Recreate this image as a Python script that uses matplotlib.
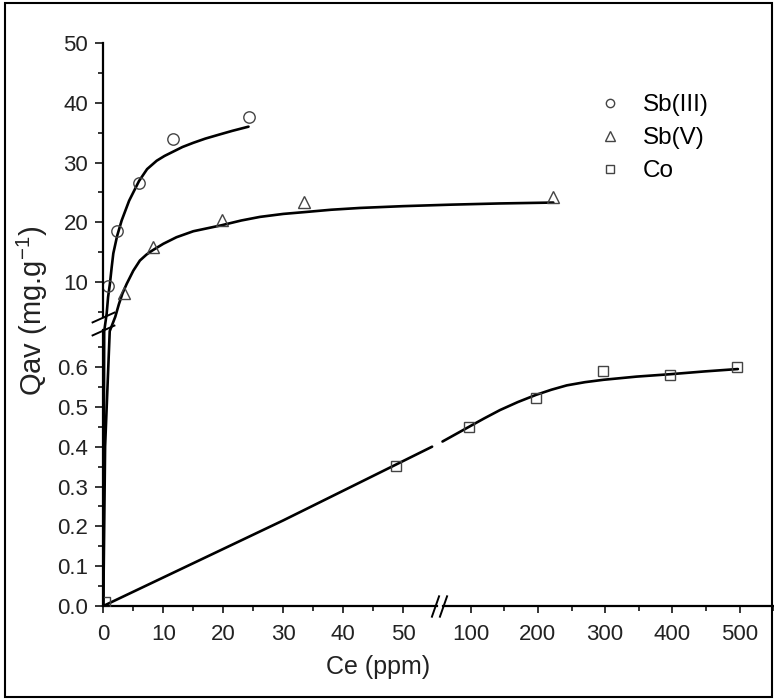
import numpy as np
import matplotlib
matplotlib.use("Agg")
import matplotlib.pyplot as plt
from matplotlib.lines import Line2D
from matplotlib.patches import Rectangle

plt.rcParams.update({"font.family": ["Liberation Sans", "DejaVu Sans"],
                     "mathtext.default": "regular"})

# ---------------- data ----------------
sb3_ce = [0.8, 2.3, 5.95, 11.6, 24.2]
sb3_q = [9.4, 18.5, 26.6, 34.0, 37.6]
sb5_ce = [3.5, 8.2, 19.7, 33.5, 74.9]
sb5_q = [8.2, 15.9, 20.3, 23.4, 24.3]
co_ce = [0.3, 48.7, 97, 197, 297, 396, 496]
co_q = [0.01, 0.351, 0.449, 0.523, 0.589, 0.579, 0.599]

# fitted curves
sb3_fit_ce = [0.0, 0.15, 0.56, 0.8, 1.1, 1.4, 1.67, 2.3, 3.06, 4.3, 5.95, 7.3, 8.9, 10.2,
              11.6, 13.2, 15.0, 17.0, 19.4, 21.5, 24.2]
sb3_fit_q = [0.0, 0.69, 4.7, 7.5, 9.7, 12.5, 14.8, 17.7, 20.3, 23.6, 26.9, 28.9, 30.3, 31.1,
             31.8, 32.6, 33.3, 34.0, 34.7, 35.3, 36.0]
sb5_fit_ce = [0.0, 0.3, 1.07, 2.0, 2.6, 3.2, 3.9, 5.0, 6.1, 7.2, 8.2, 10, 12.2, 15, 19.7, 23,
              26.1, 30, 33.5, 38, 42.8, 50, 58, 66, 75]
sb5_fit_q = [0.0, 0.40, 0.69, 4.2, 6.3, 8.1, 9.7, 11.9, 13.6, 14.6, 15.3, 16.4, 17.5, 18.5, 19.5,
             20.3, 20.9, 21.4, 21.7, 22.1, 22.4, 22.7, 22.95, 23.15, 23.3]
co_fit1_ce = [0.0, 30.0, 54.8]
co_fit1_q = [0.0, 0.215, 0.40]
co_fit2_ce = [58, 97.5, 120, 143.6, 170, 197, 220, 243, 270, 297.6, 347, 397, 448, 497.6]
co_fit2_q = [0.413, 0.450, 0.471, 0.492, 0.512, 0.530, 0.543, 0.554, 0.562, 0.568, 0.576,
             0.582, 0.589, 0.595]

y_major = [0, 0.1, 0.2, 0.3, 0.4, 0.5, 0.6, 10, 20, 30, 40, 50]
y_labels = ["0.0", "0.1", "0.2", "0.3", "0.4", "0.5", "0.6", "10", "20", "30", "40", "50"]
y_minor = [0.05, 0.15, 0.25, 0.35, 0.45, 0.55, 0.65, 5, 15, 25, 35, 45]
x_major = [0, 10, 20, 30, 40, 50, 100, 200, 300, 400, 500]
x_minor = [5, 15, 25, 35, 45, 150, 250, 350, 450, 550]

# broken-axis geometry (data value -> pixel distance from axis origin)
Y_KNOTS = [0, 0.693, 4.1, 50]
Y_PIX = [0, 276, 288.7, 563]
X_KNOTS = [0, 55, 58, 550]
X_PIX = [0, 330, 339.2, 669.8]
X_GAP = (55.6, 58.5)


def piecewise(src, dst):
    src = np.asarray(src, float)
    dst = np.asarray(dst, float)

    def f(v):
        v = np.asarray(v, float)
        out = np.interp(v, src, dst)
        out = np.where(v < src[0], dst[0] + (v - src[0]) * (dst[1] - dst[0]) / (src[1] - src[0]), out)
        out = np.where(v > src[-1], dst[-1] + (v - src[-1]) * (dst[-1] - dst[-2]) / (src[-1] - src[-2]), out)
        return out
    return f


fig = plt.figure(figsize=(7.74, 7.0), dpi=100)
ax = fig.add_axes([103.3 / 774, 94 / 700, 669.8 / 774, 563 / 700])
ax.set_yscale("function", functions=(piecewise(Y_KNOTS, Y_PIX), piecewise(Y_PIX, Y_KNOTS)))
ax.set_ylim(0, 50)
ax.set_xlim(0, 669.8 / 6)

axc = ax.twiny()
axc.set_xscale("function", functions=(piecewise(X_KNOTS, X_PIX), piecewise(X_PIX, X_KNOTS)))
axc.set_xlim(0, 550)

# broken spines: upper y part + left x part on ax, lower y part + right x part on axc
for a in (ax, axc):
    a.spines["top"].set_visible(False)
    a.spines["right"].set_visible(False)
    for s in ("left", "bottom"):
        a.spines[s].set_visible(True)
        a.spines[s].set_linewidth(1.6)
        a.spines[s].set_zorder(6)
ax.spines["left"].set_bounds(Y_KNOTS[2], Y_KNOTS[3])
ax.spines["bottom"].set_bounds(0, X_GAP[0])
axc.spines["left"].set_bounds(Y_KNOTS[0], Y_KNOTS[1])
axc.spines["bottom"].set_bounds(X_GAP[1], 550)

mk = dict(linestyle="none", mfc="none", mec="#444", mew=1.0, zorder=4)
fit = dict(color="k", lw=1.9, solid_capstyle="round", solid_joinstyle="round", zorder=3)

ax.plot(sb3_fit_ce, sb3_fit_q, **fit)
ax.plot(sb5_fit_ce, sb5_fit_q, **fit)
ax.plot(sb3_ce, sb3_q, marker="o", ms=8.2, **mk)
ax.plot(sb5_ce, sb5_q, marker="^", ms=9, **mk)

axc.plot(co_fit1_ce, co_fit1_q, **fit)
axc.plot(co_fit2_ce, co_fit2_q, **fit)
axc.plot(co_ce, co_q, marker="s", ms=7.3, **mk)

# break marks
brk = dict(linestyle="none", color="k", mec="k", mew=1.4, clip_on=False, zorder=7)
ax.plot([0, 0], [Y_KNOTS[1], Y_KNOTS[2]], transform=ax.get_yaxis_transform(),
        marker=[(-1, -0.45), (1, 0.45)], ms=17, **brk)
axc.plot(list(X_GAP), [0, 0], transform=axc.get_xaxis_transform(),
         marker=[(-0.35, -1), (0.35, 1)], ms=16, **brk)

# ticks
ax.set_yticks(y_major)
ax.set_yticklabels(y_labels)
ax.set_yticks(y_minor, minor=True)
ax.tick_params(axis="y", which="both", direction="out", width=1.1, labelsize=16,
               labelcolor="#222", pad=5)
ax.tick_params(axis="y", which="major", length=5.8)
ax.tick_params(axis="y", which="minor", length=3.6)
ax.tick_params(axis="x", which="both", bottom=False, top=False, labelbottom=False, labeltop=False)

axc.xaxis.set_ticks_position("bottom")
axc.xaxis.set_label_position("bottom")
axc.set_xticks(x_major)
axc.set_xticklabels([str(v) for v in x_major])
axc.set_xticks(x_minor, minor=True)
axc.tick_params(axis="x", which="both", direction="out", width=1.1, labelsize=16,
                labelcolor="#222", pad=8)
axc.tick_params(axis="x", which="major", length=5.3)
axc.tick_params(axis="x", which="minor", length=3.4)

ax.set_ylabel("Qav (mg.g$^{-1}$)", fontsize=21, color="#222")
ax.yaxis.set_label_coords(-0.079, 0.525)
axc.set_xlabel("Ce (ppm)", fontsize=18, color="#222")
axc.xaxis.set_label_coords(0.41, -0.087)

handles = [Line2D([], [], marker="o", ms=6, linestyle="none", mfc="none", mec="#444", mew=1.0),
           Line2D([], [], marker="^", ms=7, linestyle="none", mfc="none", mec="#444", mew=1.0),
           Line2D([], [], marker="s", ms=6, linestyle="none", mfc="none", mec="#444", mew=1.0)]
axc.legend(handles, ["Sb(III)", "Sb(V)", "Co"], loc="upper left", frameon=False, fontsize=17.5,
           handlelength=1.0, handletextpad=0.86, labelspacing=0.46, borderpad=0, borderaxespad=0,
           bbox_to_anchor=(597.9 / 774, 1 - 94 / 700), bbox_transform=fig.transFigure)

fig.patches.append(Rectangle((5 / 774, 3 / 700), 767 / 774, 694 / 700, transform=fig.transFigure,
                             fill=False, edgecolor="k", lw=1.5))

fig.savefig("out.png", dpi=100)
